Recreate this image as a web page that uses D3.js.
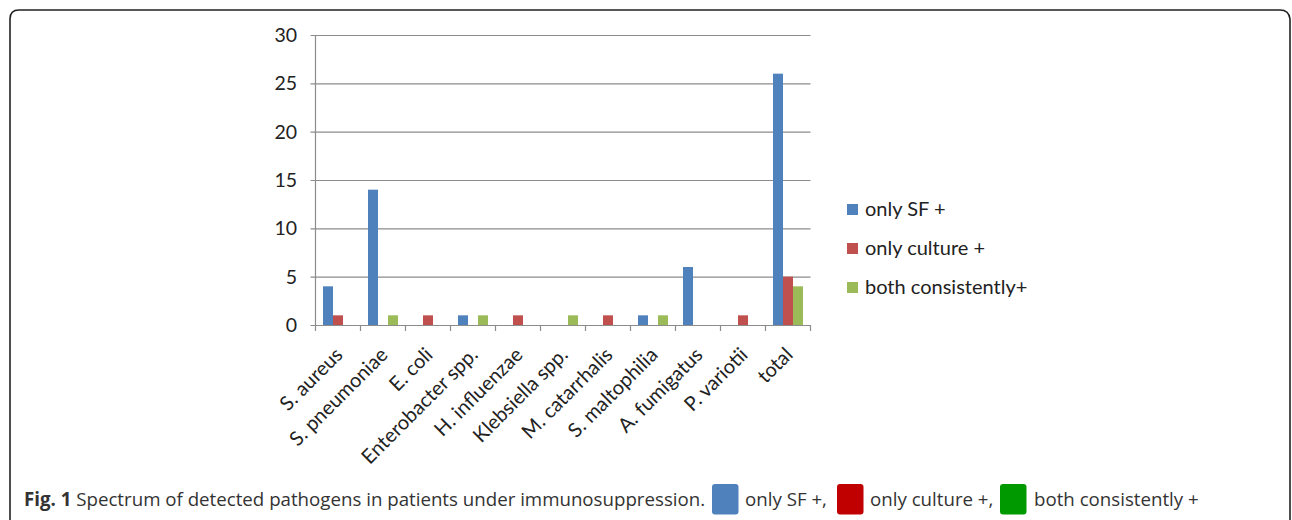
<!DOCTYPE html>
<html><head><meta charset="utf-8">
<script src="https://cdn.jsdelivr.net/npm/d3@7"></script>
<style>
html,body{margin:0;padding:0;background:#fff;}
svg{display:block;}
</style></head>
<body>
<svg id="chart" width="1292" height="520"></svg>
<script>
const categories = ["S. aureus","S. pneumoniae","E. coli","Enterobacter spp.","H. influenzae","Klebsiella spp.","M. catarrhalis","S. maltophilia","A. fumigatus","P. variotii","total"];
const seriesNames = ["only SF +","only culture +","both consistently+"];
const onlySF = [4,14,0,1,0,0,0,1,6,0,26];
const onlyCulture = [1,0,1,0,1,0,1,0,0,1,5];
const bothConsistently = [0,1,0,1,0,1,0,1,0,0,4];
const yTicks = [0,5,10,15,20,25,30];
const seriesColors = ["#4F81BD","#C0504D","#9BBB59"];
const captionLabels = ["only SF +,","only culture +,","both consistently +"];
const captionColors = ["#4F81BD","#C00000","#009900"];

(function(){
const svg = d3.select("#chart");
svg.append("path")
  .attr("d","M10,530 L10,19 Q10,10 19,10 L1280,10 Q1289,10 1290,19 L1290,530")
  .attr("fill","none").attr("stroke","#222").attr("stroke-width",1.6);

const pL = 315.5, pR = 810.5, pT = 35, pB = 325;
const x = d3.scaleBand().domain(categories).range([pL,pR]).paddingInner(0).paddingOuter(0);
const y = d3.scaleLinear().domain([0,30]).range([pB,pT]);
const bw = x.bandwidth()/4.5;
const x1 = d3.scaleBand().domain(seriesNames).range([x.bandwidth()/2 - 1.5*bw, x.bandwidth()/2 + 1.5*bw]).padding(0);

const gridC = "#8c8c8c";
svg.append("g").selectAll("line").data(yTicks).join("line")
  .attr("x1",pL-5).attr("x2",pR).attr("y1",d=>y(d)+0.5).attr("y2",d=>y(d)+0.5)
  .attr("stroke",gridC).attr("stroke-width",1.2);
svg.append("line").attr("x1",pL).attr("x2",pL).attr("y1",pT).attr("y2",pB)
  .attr("stroke",gridC).attr("stroke-width",1.2);
svg.append("g").selectAll("text").data(yTicks).join("text")
  .attr("x",297).attr("y",d=>y(d)).attr("dy","0.36em").attr("text-anchor","end")
  .attr("font-family","Lato, sans-serif").attr("font-size",19.5).attr("fill","#222")
  .text(d=>d);
const bounds = categories.map(c=>x(c)).concat([pR]);
svg.append("g").selectAll("line").data(bounds).join("line")
  .attr("x1",d=>d).attr("x2",d=>d).attr("y1",pB).attr("y2",pB+6)
  .attr("stroke",gridC).attr("stroke-width",1.2);

const data = [onlySF, onlyCulture, bothConsistently];
const rows = categories.map((c,i)=>seriesNames.map((s,j)=>({c,s,v:data[j][i],color:seriesColors[j]})));
svg.append("g").selectAll("g").data(rows).join("g")
  .attr("transform",d=>`translate(${x(d[0].c)},0)`)
  .selectAll("rect").data(d=>d.filter(e=>e.v>0)).join("rect")
  .attr("x",d=>x1(d.s)).attr("width",x1.bandwidth())
  .attr("y",d=>y(d.v)).attr("height",d=>y(0)-y(d.v))
  .attr("fill",d=>d.color);

svg.append("g").selectAll("text").data(categories).join("text")
  .attr("transform",d=>`translate(${x(d)+x.bandwidth()/2+6},${pB+31}) rotate(-45)`)
  .attr("text-anchor","end")
  .attr("font-family","Lato, sans-serif").attr("font-size",20).attr("fill","#222")
  .text(d=>d);

const lg = svg.append("g").selectAll("g").data(seriesNames).join("g")
  .attr("transform",(d,i)=>`translate(847,${216+i*39})`);
lg.append("rect").attr("x",0).attr("y",-12).attr("width",11).attr("height",11)
  .attr("fill",(d,i)=>seriesColors[i]);
lg.append("text").attr("x",18).attr("y",0)
  .attr("font-family","Lato, sans-serif").attr("font-size",20).attr("fill","#222")
  .text(d=>d);

const cap = svg.append("text").attr("x",24).attr("y",506)
  .attr("font-family","'Open Sans', sans-serif").attr("font-size",18.7).attr("fill","#333");
cap.append("tspan").attr("font-weight","bold").text("Fig. 1");
cap.append("tspan").text(" Spectrum of detected pathogens in patients under immunosuppression.");
const boxX = [712, 837, 1000];
const textX = [745, 870, 1034];
captionLabels.forEach((t,i)=>{
  svg.append("rect").attr("x",boxX[i]).attr("y",484).attr("width",26.5).attr("height",30.5)
    .attr("rx",3).attr("fill",captionColors[i]);
  svg.append("text").attr("x",textX[i]).attr("y",506)
    .attr("font-family","'Open Sans', sans-serif").attr("font-size",18.7).attr("fill","#333")
    .text(t);
});
})();
</script>
</body></html>
